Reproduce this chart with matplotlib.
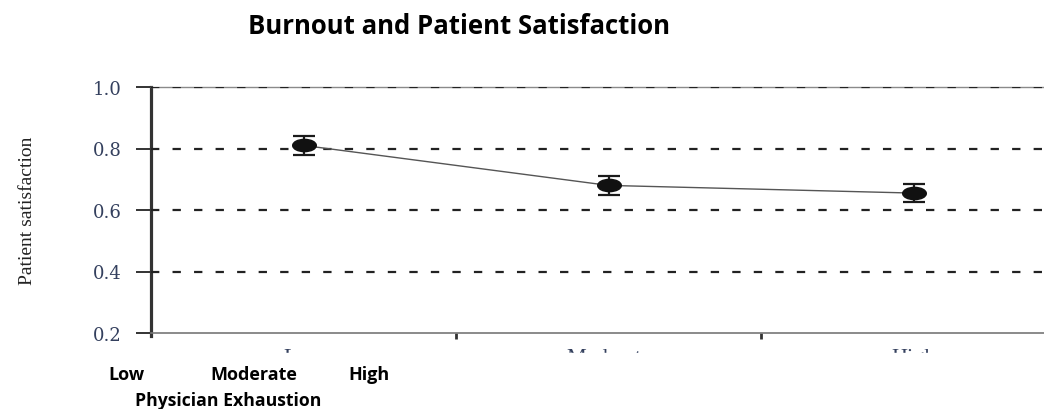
import matplotlib
matplotlib.use("Agg")
import matplotlib.pyplot as plt
from matplotlib.path import Path
from matplotlib.patches import Rectangle
from matplotlib.transforms import Affine2D

# Data
levels = ["Low", "Moderate", "High"]
satisfaction = [0.81, 0.68, 0.655]
err = [0.03, 0.03, 0.028]
yticks = [0.2, 0.4, 0.6, 0.8, 1.0]

plt.rcParams["lines.scale_dashes"] = False

fig = plt.figure(figsize=(10.44, 4.10), dpi=100)
ax = fig.add_axes([151 / 1044, 76 / 410, 915 / 1044, 246 / 410])

x = list(range(1, len(levels) + 1))

# flattened ellipse marker
ellipse = Path.unit_circle().transformed(Affine2D().scale(1.0, 0.52))

ax.plot(x, satisfaction, color="#555555", lw=1.0, zorder=3)
ax.errorbar(x, satisfaction, yerr=err, fmt="none", ecolor="#1a1a1a",
            elinewidth=1.6, capsize=8, capthick=1.6, zorder=4)
ax.plot(x, satisfaction, ls="none", marker=ellipse, ms=17,
        color="#111111", zorder=5)

ax.set_xlim(0.5, 3.5)
ax.set_ylim(0.2, 1.0)

# dashed reference lines
for yv in yticks[1:]:
    ax.axhline(yv, color="#222222", lw=1.6, ls=(0, (6, 9.5)), zorder=2.6)

ax.spines["right"].set_visible(False)
ax.spines["left"].set_linewidth(2.3)
ax.spines["left"].set_color("#333333")
ax.spines["left"].set_bounds(0.19, 1.0)
ax.spines["bottom"].set_linewidth(1.2)
ax.spines["bottom"].set_color("#777777")
ax.spines["top"].set_linewidth(1.0)
ax.spines["top"].set_color("#8a8a8a")

ax.set_yticks(yticks)
ax.set_yticklabels([f"{v:.1f}" for v in yticks], family="DejaVu Serif",
                   fontsize=13, color="#34405e")
ax.tick_params(axis="y", direction="out", length=11, width=1.4,
               color="#333333", pad=10)

ax.set_xticks(x)
ax.set_xticklabels(levels, family="Liberation Serif", fontsize=16,
                   color="#34405e")
ax.tick_params(axis="x", which="major", length=0, pad=11)
ax.set_xticks([1.5, 2.5], minor=True)
ax.tick_params(axis="x", which="minor", direction="out", length=4,
               width=2, color="#333333")

ax.set_ylabel("Patient satisfaction", family="Liberation Serif",
              fontsize=14, color="#222222")
ax.yaxis.set_label_coords((28 - 151) / 915, 0.5)
ax.yaxis.label.set(ha="center", va="center")

# blank band under the axis, then the category captions
fig.patches.append(Rectangle((0, 0), 1, (410 - 354) / 410,
                             transform=fig.transFigure, color="white",
                             zorder=5))

fig.text(459 / 1044, 1 - 26 / 410, "Burnout and Patient Satisfaction",
         family="Open Sans", weight="bold", fontsize=18.5, ha="center",
         va="center", zorder=10)
for lbl, cx in zip(levels, [126, 254, 369]):
    fig.text(cx / 1044, 1 - 380 / 410, lbl, family="Open Sans",
             weight="bold", fontsize=13, ha="center", va="baseline",
             zorder=10)
fig.text(228 / 1044, 1 - 406 / 410, "Physician Exhaustion",
         family="Open Sans", weight="bold", fontsize=12.7, ha="center",
         va="baseline", zorder=10)

fig.savefig("out.png", dpi=100)
